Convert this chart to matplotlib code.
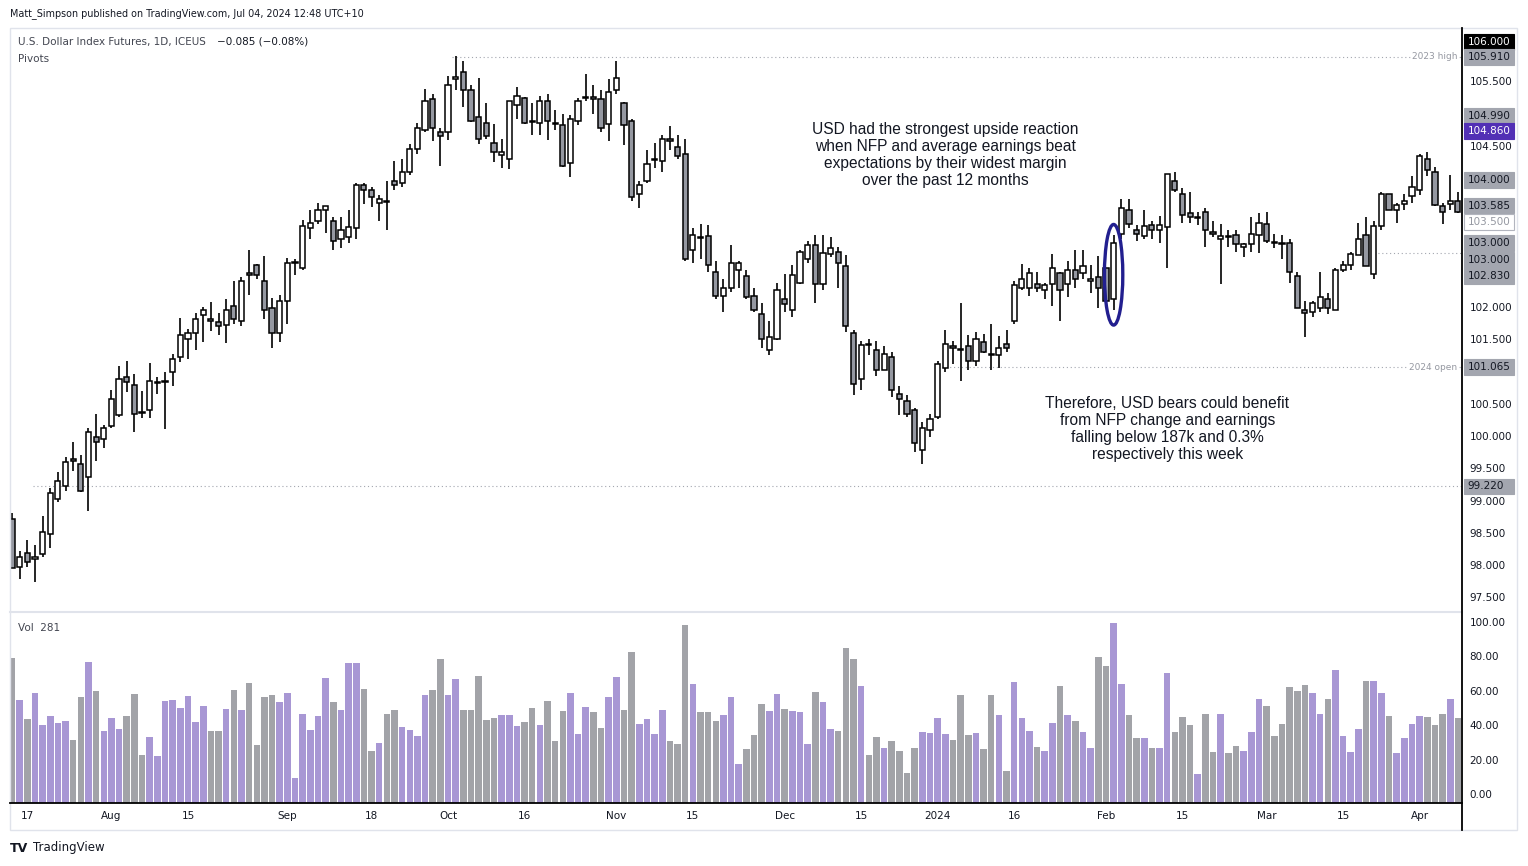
import matplotlib
matplotlib.use("Agg")
import matplotlib.pyplot as plt
import matplotlib.transforms as mtransforms
from matplotlib.patches import Ellipse, Rectangle
from matplotlib.lines import Line2D
import numpy as np

# daily DXY futures candles, 13 Jul 2023 .. 8 Apr 2024 (bar index 0..189)
opens = [98.72, 97.97, 98.18, 98.10, 98.17, 98.48, 99.02, 99.22, 99.65, 99.56,
         99.36, 99.98, 99.96, 100.16, 100.32, 100.91, 100.79, 100.37, 100.40, 100.82,
         100.83, 100.99, 101.22, 101.50, 101.59, 101.87, 101.81, 101.76, 101.72, 102.01,
         101.78, 102.52, 102.65, 102.40, 101.98, 101.59, 102.09, 102.69, 102.60, 103.22,
         103.33, 103.51, 103.33, 103.05, 103.08, 103.22, 103.89, 103.82, 103.61, 103.65,
         103.96, 103.93, 104.10, 104.45, 104.75, 105.22, 104.71, 104.72, 105.54, 105.64,
         105.36, 104.94, 104.85, 104.55, 104.35, 104.29, 105.13, 105.24, 104.89, 104.86,
         105.20, 104.86, 104.82, 104.23, 104.89, 105.24, 105.25, 105.22, 104.83, 105.36,
         105.17, 104.88, 103.76, 103.96, 104.28, 104.27, 104.60, 104.48, 104.38, 102.89,
         103.09, 103.10, 102.55, 102.17, 102.29, 102.58, 102.48, 102.17, 101.89, 101.34,
         101.51, 102.13, 101.96, 102.37, 102.74, 102.96, 102.35, 102.82, 102.85, 102.63,
         101.59, 100.88, 101.42, 101.33, 101.03, 101.22, 100.65, 100.54, 100.41, 99.79,
         100.09, 100.29, 101.06, 101.39, 101.34, 101.39, 101.16, 101.45, 101.27, 101.25,
         101.42, 101.78, 102.29, 102.29, 102.35, 102.26, 102.35, 102.52, 102.35, 102.57,
         102.52, 102.40, 102.46, 102.60, 102.12, 103.13, 103.51, 103.20, 103.10, 103.27,
         103.19, 103.24, 103.96, 103.76, 103.45, 103.38, 103.47, 103.16, 103.06, 103.10,
         103.11, 102.93, 102.97, 103.11, 103.28, 103.00, 103.00, 103.00, 102.48, 101.95,
         101.93, 101.99, 102.13, 101.96, 102.58, 102.65, 102.80, 103.11, 102.51, 103.25,
         103.75, 103.50, 103.59, 103.72, 103.82, 104.30, 104.10, 103.56, 103.59, 103.64]
highs = [98.80, 98.22, 98.39, 98.31, 98.76, 99.19, 99.44, 99.67, 99.91, 99.70,
         100.12, 100.34, 100.17, 100.72, 101.09, 101.16, 100.96, 100.70, 101.13, 100.91,
         101.00, 101.27, 101.83, 101.66, 101.91, 102.00, 102.08, 101.91, 102.12, 102.40,
         102.47, 102.88, 102.66, 102.79, 102.14, 102.18, 102.76, 102.74, 103.35, 103.50,
         103.62, 103.57, 103.40, 103.40, 103.50, 103.93, 103.93, 103.86, 103.73, 103.96,
         104.27, 104.30, 104.52, 104.85, 105.38, 105.31, 104.77, 105.58, 105.89, 105.81,
         105.44, 105.55, 105.17, 104.83, 104.60, 105.20, 105.41, 105.25, 105.16, 105.27,
         105.31, 105.06, 104.99, 104.97, 105.24, 105.61, 105.45, 105.36, 105.53, 105.82,
         105.18, 104.91, 103.96, 104.44, 104.55, 104.66, 104.81, 104.66, 104.60, 103.22,
         103.28, 103.27, 102.71, 102.44, 102.96, 102.71, 102.58, 102.29, 102.07, 101.78,
         102.37, 102.51, 102.65, 102.88, 103.03, 103.11, 103.11, 103.08, 102.93, 102.80,
         101.64, 101.48, 101.50, 101.48, 101.39, 101.31, 100.77, 100.63, 100.44, 100.21,
         100.34, 101.16, 101.64, 101.47, 102.06, 101.56, 101.61, 101.58, 101.73, 101.55,
         101.64, 102.40, 102.66, 102.61, 102.54, 102.38, 102.82, 102.55, 102.71, 102.88,
         102.88, 102.65, 102.79, 102.61, 103.11, 103.68, 103.67, 103.27, 103.51, 103.34,
         103.41, 104.07, 104.09, 103.84, 103.79, 103.48, 103.53, 103.34, 103.28, 103.19,
         103.19, 103.00, 103.39, 103.45, 103.47, 103.13, 103.11, 103.06, 102.54, 102.09,
         102.09, 102.54, 102.21, 102.61, 102.71, 102.86, 103.30, 103.39, 103.33, 103.78,
         103.76, 103.62, 103.75, 104.03, 104.38, 104.41, 104.17, 103.61, 104.04, 103.79]
lows = [97.96, 97.79, 97.97, 97.74, 98.13, 98.27, 98.97, 99.14, 99.45, 99.13,
        98.84, 99.62, 99.82, 100.13, 100.30, 100.69, 100.07, 100.28, 100.28, 100.65,
        100.11, 100.78, 101.14, 101.20, 101.33, 101.46, 101.63, 101.56, 101.44, 101.73,
        101.70, 102.18, 102.43, 101.82, 101.37, 101.46, 101.73, 102.49, 102.58, 103.06,
        103.29, 103.14, 102.89, 102.91, 103.00, 103.06, 103.59, 103.55, 103.33, 103.20,
        103.82, 103.86, 104.05, 104.38, 104.72, 104.58, 104.19, 104.59, 105.36, 105.10,
        104.87, 104.53, 104.61, 104.25, 104.16, 104.14, 104.91, 104.83, 104.66, 104.66,
        104.59, 104.74, 104.17, 104.01, 104.82, 105.20, 104.99, 104.72, 104.58, 105.30,
        104.51, 103.64, 103.54, 103.92, 104.15, 104.09, 104.44, 104.30, 102.71, 102.68,
        102.74, 102.54, 102.12, 101.93, 102.24, 102.29, 102.12, 101.92, 101.36, 101.25,
        101.49, 101.92, 101.84, 102.35, 102.69, 102.07, 102.27, 102.77, 102.30, 101.61,
        100.63, 100.71, 101.25, 100.93, 101.02, 100.61, 100.32, 100.29, 99.75, 99.56,
        99.99, 100.27, 101.00, 101.11, 100.85, 101.02, 101.08, 101.28, 101.02, 101.05,
        101.30, 101.73, 102.27, 102.17, 102.23, 102.13, 102.01, 101.79, 102.15, 102.30,
        102.44, 102.21, 101.99, 102.05, 101.96, 103.06, 103.22, 103.03, 103.06, 103.06,
        103.00, 102.60, 103.78, 103.31, 103.30, 103.27, 102.93, 103.08, 102.35, 102.93,
        102.86, 102.77, 102.85, 102.83, 102.99, 102.91, 102.75, 102.38, 101.98, 101.53,
        101.84, 101.93, 101.89, 101.96, 102.54, 102.57, 102.80, 102.63, 102.43, 103.20,
        103.50, 103.31, 103.51, 103.62, 103.73, 104.03, 103.56, 103.28, 103.50, 103.45]
closes = [97.96, 98.12, 98.04, 98.13, 98.51, 99.11, 99.31, 99.59, 99.61, 99.14,
          100.06, 99.90, 100.13, 100.58, 100.89, 100.84, 100.34, 100.36, 100.85, 100.84,
          100.86, 101.19, 101.56, 101.59, 101.82, 101.96, 101.78, 101.70, 101.96, 101.82,
          102.41, 102.50, 102.49, 101.96, 101.59, 102.09, 102.69, 102.70, 103.25, 103.31,
          103.51, 103.56, 103.03, 103.19, 103.24, 103.89, 103.82, 103.70, 103.67, 103.63,
          103.89, 104.10, 104.45, 104.78, 105.20, 104.77, 104.65, 105.44, 105.56, 105.36,
          104.89, 104.61, 104.65, 104.40, 104.41, 105.20, 105.27, 104.86, 104.87, 105.19,
          104.88, 104.83, 104.18, 104.91, 105.19, 105.25, 105.22, 104.77, 105.33, 105.55,
          104.82, 103.70, 103.89, 104.21, 104.30, 104.61, 104.57, 104.34, 102.75, 103.11,
          103.07, 102.65, 102.17, 102.29, 102.68, 102.68, 102.15, 101.95, 101.50, 101.53,
          102.27, 102.04, 102.49, 102.85, 102.96, 102.35, 102.83, 102.91, 102.68, 101.70,
          100.80, 101.41, 101.41, 101.02, 101.27, 100.71, 100.57, 100.34, 99.89, 100.13,
          100.26, 101.11, 101.42, 101.36, 101.33, 101.16, 101.50, 101.30, 101.25, 101.37,
          101.37, 102.34, 102.43, 102.52, 102.29, 102.34, 102.61, 102.26, 102.58, 102.44,
          102.63, 102.43, 102.30, 102.09, 103.00, 103.53, 103.28, 103.13, 103.25, 103.20,
          103.27, 104.06, 103.82, 103.42, 103.39, 103.40, 103.19, 103.13, 103.10, 103.08,
          102.97, 102.97, 103.13, 103.31, 103.02, 102.99, 102.97, 102.54, 101.99, 101.90,
          102.07, 102.15, 101.98, 102.57, 102.65, 102.82, 103.06, 102.63, 103.25, 103.76,
          103.51, 103.58, 103.64, 103.86, 104.34, 104.13, 103.58, 103.47, 103.65, 103.48]
volume = [79.3, 54.7, 43.6, 58.7, 40.1, 45.3, 41.3, 42.4, 31.4, 56.4,
          76.7, 59.9, 36.6, 44.2, 37.8, 45.3, 58.1, 22.7, 33.1, 22.1,
          54.1, 54.7, 50.0, 57.0, 41.9, 51.2, 36.6, 36.6, 49.4, 60.5,
          48.8, 64.5, 28.5, 56.4, 57.6, 53.5, 58.7, 9.3, 46.5, 37.2,
          45.3, 67.4, 53.5, 48.8, 76.2, 76.2, 61.0, 25.0, 29.7, 46.5,
          48.8, 39.0, 37.2, 33.7, 57.6, 60.5, 78.5, 57.6, 66.9, 48.8,
          48.8, 68.6, 43.0, 44.2, 45.9, 45.9, 39.5, 41.9, 50.0, 40.1,
          54.1, 30.8, 48.3, 58.7, 34.9, 50.6, 47.7, 38.4, 56.4, 68.0,
          48.8, 82.6, 40.7, 43.6, 34.9, 48.8, 30.8, 29.1, 98.3, 64.0,
          47.7, 47.7, 42.4, 45.9, 56.4, 17.4, 26.2, 34.3, 52.3, 48.3,
          58.1, 49.4, 48.3, 47.7, 29.1, 59.3, 53.5, 37.8, 36.6, 84.9,
          78.5, 62.8, 22.7, 33.1, 26.7, 30.8, 25.0, 12.2, 26.7, 36.0,
          35.5, 44.2, 34.9, 31.4, 57.6, 34.3, 35.5, 26.2, 57.6, 45.9,
          13.4, 65.1, 44.2, 36.6, 27.3, 25.0, 41.3, 62.8, 45.9, 42.4,
          36.0, 26.7, 79.7, 74.4, 99.4, 64.0, 45.9, 32.6, 32.6, 26.7,
          26.7, 70.3, 36.0, 44.8, 40.1, 11.6, 46.5, 24.4, 46.5, 23.8,
          27.9, 25.0, 36.0, 55.2, 51.2, 33.7, 40.7, 62.2, 59.9, 63.4,
          58.7, 46.5, 55.2, 72.1, 33.7, 24.4, 37.8, 65.7, 65.7, 58.7,
          45.3, 23.8, 32.6, 40.7, 45.3, 44.8, 40.1, 46.5, 55.2, 44.2]

date_pos = [2, 13, 23, 36, 47, 57, 67, 79, 89, 101, 111, 121, 131, 143, 153, 164, 174, 184]
date_lab = ["17", "Aug", "15", "Sep", "18", "Oct", "16", "Nov", "15", "Dec", "15",
            "2024", "16", "Feb", "15", "Mar", "15", "Apr"]

price_ticks = [97.5, 98.0, 98.5, 99.0, 99.5, 100.0, 100.5, 101.5, 102.0, 104.5, 105.5]
vol_ticks = [0, 20, 40, 60, 80, 100]

# pivot / reference levels drawn as dotted lines
level_val = [105.88, 101.065, 102.83, 99.22]
level_start = [57.5, 121, 178, 2.8]
level_name = ["2023 high", "2024 open", "", ""]

# boxed labels on the price scale (shown stacked where they would overlap)
tag_pos = [106.11, 105.88, 104.96, 104.73, 103.97, 103.57, 103.32,
           102.99, 102.73, 102.48, 101.07, 99.22]
tag_text = ["106.000", "105.910", "104.990", "104.860", "104.000", "103.585", "103.500",
            "103.000", "103.000", "102.830", "101.065", "99.220"]
tag_kind = ["black", "gray", "gray", "purple", "gray", "gray", "white",
            "gray", "gray", "gray", "gray", "gray"]

note1 = ("USD had the strongest upside reaction\nwhen NFP and average earnings beat\n"
         "expectations by their widest margin\nover the past 12 months")
note2 = ("Therefore, USD bears could benefit\nfrom NFP change and earnings\n"
         "falling below 187k and 0.3%\nrespectively this week")

plt.rcParams['font.family'] = ['DejaVu Sans']
TXT = '#131722'
UP_VOL = '#a897d4'
DN_VOL = '#a2a3a8'
DN_BODY = '#9598a1'

W, H = 1528, 866
fig = plt.figure(figsize=(W / 100, H / 100), dpi=100)
fig.patch.set_facecolor('white')


def fx(p):
    return p / W


def fy(p):
    return 1 - p / H


ax = fig.add_axes([fx(10), fy(611), fx(1462) - fx(10), fy(28) - fy(611)])
axv = fig.add_axes([fx(10), fy(803), fx(1462) - fx(10), fy(612) - fy(803)])

o = np.array(opens)
h = np.array(highs)
l = np.array(lows)
c = np.array(closes)
x = np.arange(len(o))
up = c >= o

# candles
ax.vlines(x, l, h, color='black', lw=1.2, zorder=2)
body_lo = np.minimum(o, c)
body_h = np.maximum(np.abs(c - o), 0.012)
ax.bar(x, body_h, bottom=body_lo, width=0.68,
       color=np.where(up, 'white', DN_BODY), edgecolor='black', linewidth=1.1, zorder=3)

xmin, xmax = -0.26, 189.54
ax.set_xlim(xmin, xmax)
ax.set_ylim(97.287, 106.326)

# dotted levels
for val, start, name in zip(level_val, level_start, level_name):
    ax.plot([start, xmax], [val, val], ls=(0, (1, 2.5)), color='#a3a6af', lw=0.8, zorder=1)
    if name:
        ax.text(xmax - 0.6, val, name, ha='right', va='center', fontsize=6.5,
                color='#9598a1', zorder=4,
                bbox=dict(boxstyle='square,pad=0.15', fc='white', ec='none'))

# ellipse around the Feb NFP candle
ax.add_patch(Ellipse((144, 102.50), width=2.4, height=1.56, fill=False,
                     edgecolor='#221f8f', lw=2.4, zorder=5))

ax.text(122, 104.36, note1, ha='center', va='center', fontsize=11.2,
        family=['Liberation Sans', 'DejaVu Sans'], color=TXT, linespacing=1.17)
ax.text(151, 100.11, note2, ha='center', va='center', fontsize=11.2,
        family=['Liberation Sans', 'DejaVu Sans'], color=TXT, linespacing=1.17)

# price scale
ax.yaxis.tick_right()
ax.set_yticks(price_ticks)
ax.set_yticklabels([f"{v:.3f}" for v in price_ticks])
ax.tick_params(axis='y', length=0, pad=5.5, labelsize=7.5, labelcolor=TXT)
ax.set_xticks([])
for s in ax.spines.values():
    s.set_visible(False)

tr = mtransforms.blended_transform_factory(ax.transAxes, ax.transData)
box_w = 50 / 1452
box_h = 0.24
styles = {'black': ('black', 'black', 'white'),
          'gray': ('#a3a6af', '#a3a6af', TXT),
          'purple': ('#5230b5', '#5230b5', 'white'),
          'white': ('white', '#b2b5be', '#9598a1')}
for val, txt, kind in zip(tag_pos, tag_text, tag_kind):
    fc, ec, tc = styles[kind]
    ax.add_patch(Rectangle((1 + 1.5 / 1452, val - box_h / 2), box_w, box_h, transform=tr,
                           fc=fc, ec=ec, lw=0.8, clip_on=False, zorder=6))
    ax.text(1 + 5.5 / 1452, val, txt, transform=tr, ha='left', va='center',
            fontsize=7.5, color=tc, zorder=7, clip_on=False)

# volume pane
vbot = -5.23
vol = np.array(volume)
axv.bar(x, vol - vbot, bottom=vbot, width=0.86,
        color=np.where(up, UP_VOL, DN_VOL), linewidth=0)
axv.set_xlim(xmin, xmax)
axv.set_ylim(vbot, 105.8)
axv.yaxis.tick_right()
axv.set_yticks(vol_ticks)
axv.set_yticklabels([f"{v:.2f}" for v in vol_ticks])
axv.tick_params(axis='y', length=0, pad=5.5, labelsize=7.5, labelcolor=TXT)
axv.set_xticks(date_pos)
axv.set_xticklabels(date_lab)
axv.tick_params(axis='x', length=0, pad=6, labelsize=7.5, labelcolor=TXT)
for s in axv.spines.values():
    s.set_visible(False)

# frame lines
fig.add_artist(Rectangle((fx(10), fy(830)), fx(1517) - fx(10), fy(28) - fy(830),
                         transform=fig.transFigure, fill=False, ec='#e0e3eb', lw=1))
fig.add_artist(Line2D([fx(10), fx(1462)], [fy(611.5), fy(611.5)], color='#e0e3eb', lw=1.5))
fig.add_artist(Line2D([fx(10), fx(1462)], [fy(803), fy(803)], color='black', lw=1.3))
fig.add_artist(Line2D([fx(1462), fx(1462)], [fy(28), fy(830)], color='black', lw=1.3))

# header and footer texts
fig.text(fx(10), fy(14), "Matt_Simpson published on TradingView.com, Jul 04, 2024 12:48 UTC+10",
         fontsize=6.9, color=TXT, va='center', ha='left')
fig.text(fx(18), fy(42), "U.S. Dollar Index Futures, 1D, ICEUS", fontsize=7.5,
         color='#434651', va='center', ha='left')
fig.text(fx(217), fy(42), "\u22120.085 (\u22120.08%)", fontsize=7.5,
         color=TXT, va='center', ha='left')
fig.text(fx(18), fy(59), "Pivots", fontsize=7.5, color='#434651', va='center', ha='left')
fig.text(fx(18), fy(628), "Vol  281", fontsize=7.5, color='#434651', va='center', ha='left')
fig.text(fx(10), fy(848), "TV", fontsize=9, fontweight='bold', color=TXT, va='center', ha='left')
fig.text(fx(33), fy(848), "TradingView", fontsize=8.5, color=TXT, va='center', ha='left')

fig.savefig('out.png', dpi=100, facecolor='white')
